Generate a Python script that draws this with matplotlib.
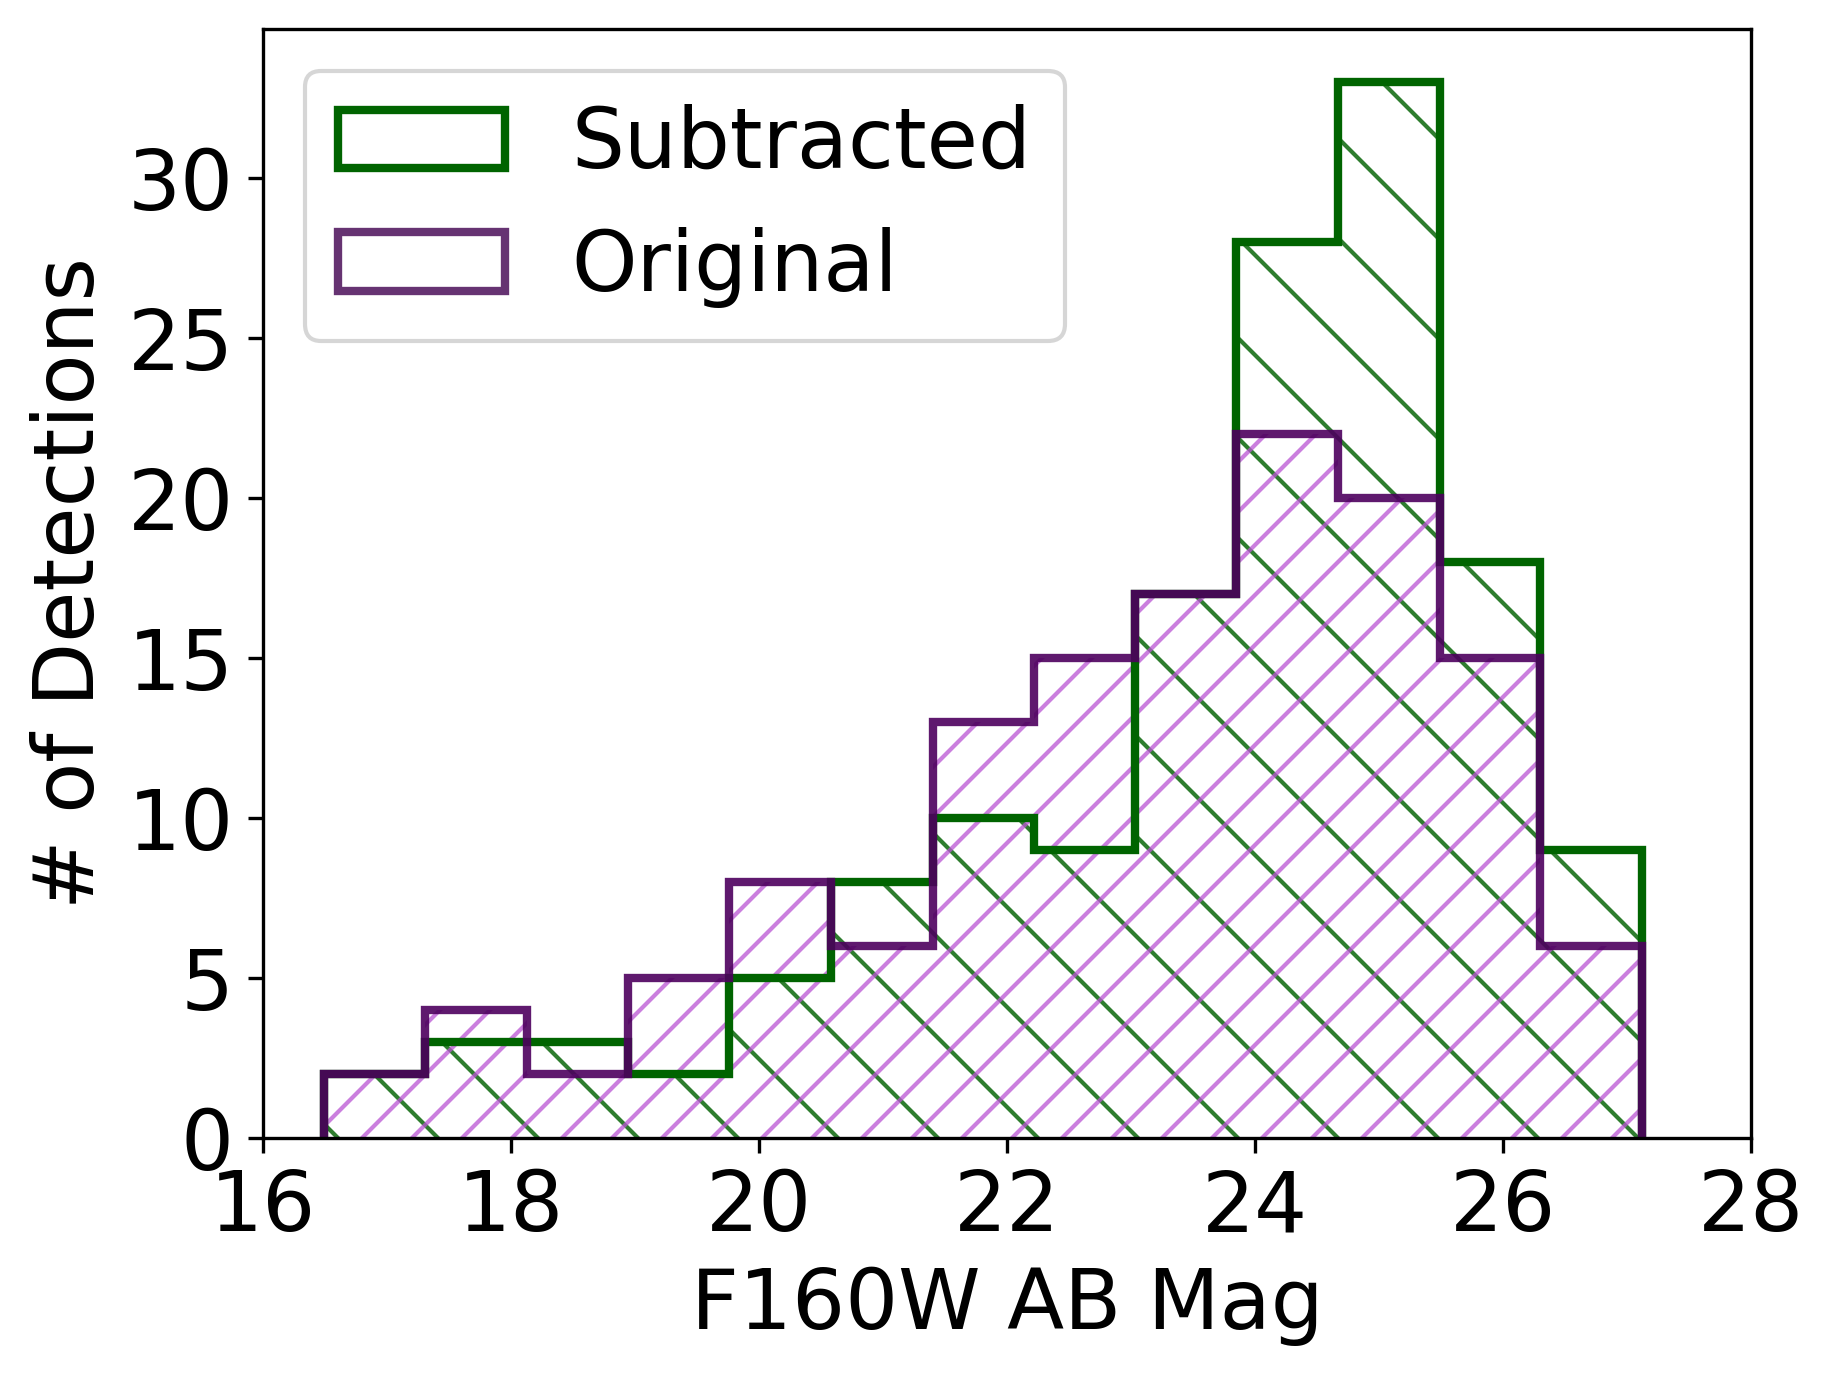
import matplotlib
matplotlib.use("Agg")
import matplotlib.pyplot as plt
from matplotlib.patches import Patch

# bin edges (F160W AB mag) and counts per bin
bin_edges = [16.49, 17.31, 18.13, 18.94, 19.76, 20.58, 21.40,
             22.22, 23.03, 23.85, 24.67, 25.49, 26.30, 27.12]
subtracted_counts = [2, 3, 3, 2, 5, 8, 10, 9, 17, 28, 33, 18, 9]
original_counts = [2, 4, 2, 5, 8, 6, 13, 15, 17, 22, 20, 15, 6]

x_ticks = [16, 18, 20, 22, 24, 26, 28]
y_ticks = [0, 5, 10, 15, 20, 25, 30]

GREEN_EDGE = "#006400"
GREEN_HATCH = (0.18, 0.49, 0.18)
PURPLE_EDGE = (0.30, 0.0, 0.37, 0.9)
PURPLE_LEGEND = "#663372"
PURPLE_HATCH = (0.73, 0.33, 0.83, 0.75)

plt.rcParams["font.family"] = "DejaVu Sans"
plt.rcParams["font.size"] = 20

fig, ax = plt.subplots(figsize=(1833 / 300, 1376 / 300), dpi=300)
fig.subplots_adjust(left=0.1435, right=0.9553, bottom=0.173, top=0.979)

# hatched areas
ax.stairs(subtracted_counts, bin_edges, fill=True, facecolor="none",
          edgecolor=GREEN_HATCH, hatch="\\", linewidth=0)
ax.stairs(original_counts, bin_edges, fill=True, facecolor="none",
          edgecolor=PURPLE_HATCH, hatch="//", linewidth=0)

# outlines
ax.stairs(subtracted_counts, bin_edges, baseline=0, color=GREEN_EDGE,
          linewidth=2.0)
ax.stairs(original_counts, bin_edges, baseline=0, color=PURPLE_EDGE,
          linewidth=2.0)

ax.set_xlim(16, 28)
ax.set_xticks(x_ticks)
ax.set_yticks(y_ticks)
ax.set_xlabel("F160W AB Mag")
ax.set_ylabel("# of Detections")

handles = [Patch(facecolor="none", edgecolor=GREEN_EDGE, linewidth=2.0, label="Subtracted"),
           Patch(facecolor="none", edgecolor=PURPLE_LEGEND, linewidth=2.0, label="Original")]
ax.legend(handles=handles, loc="upper left")

fig.savefig("out.png", dpi=300, facecolor="white")
